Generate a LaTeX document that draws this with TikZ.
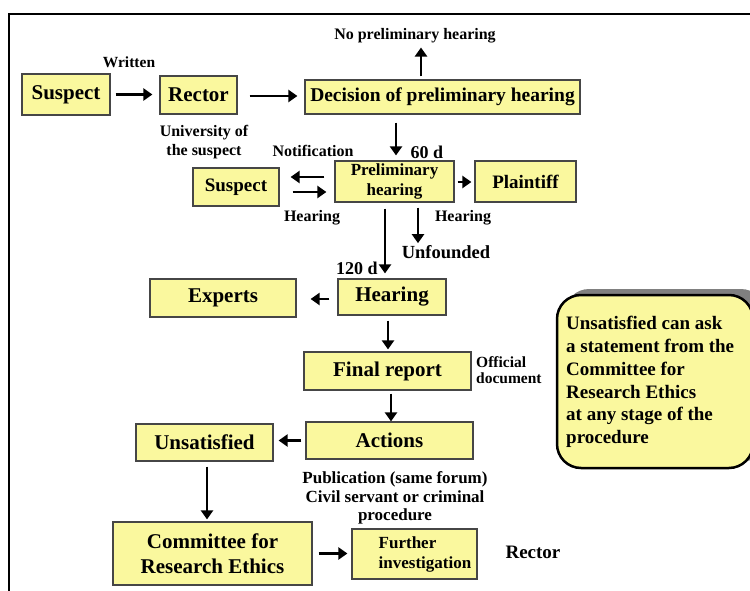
\documentclass[tikz,border=0pt]{standalone}
\usepackage{fontspec}
\setmainfont{Liberation Serif}[BoldFont={Liberation Serif Bold}]
\usetikzlibrary{arrows.meta}
\definecolor{boxfill}{RGB}{250,248,158}
\definecolor{boxline}{RGB}{70,70,70}
\definecolor{shadowgray}{RGB}{128,128,128}
\begin{document}
\begin{tikzpicture}[x=1pt,y=-1pt,
  box/.style={draw=boxline, fill=boxfill, line width=1.2pt, inner sep=0pt, align=center, font=\bfseries},
  lbl/.style={inner sep=0pt, align=center, font=\bfseries},
  arr/.style={line width=2.8pt, -{Triangle[length=9pt,width=12pt]}},
]
\useasboundingbox (0,0) rectangle (750,591);
% frame
\draw[line width=2pt] (9,591) -- (9,14) -- (750,14);

% boxes
\node[box, minimum width=88pt, minimum height=41pt, font=\bfseries\fontsize{21}{24}\selectfont] (s1) at (66,94.5) {Suspect};
\node[box, minimum width=77pt, minimum height=38pt, font=\bfseries\fontsize{21}{24}\selectfont] (r) at (198.5,95) {Rector};
\node[box, minimum width=275pt, minimum height=34pt, font=\bfseries\fontsize{19.5}{22}\selectfont] (dec) at (442.5,97) {Decision of preliminary hearing};
\node[box, minimum width=86pt, minimum height=38pt, font=\bfseries\fontsize{19}{22}\selectfont] (s2) at (236,187) {Suspect};
\node[box, minimum width=119pt, minimum height=41pt, font=\bfseries\fontsize{17}{20}\selectfont] (ph) at (394.5,181.5) {Preliminary\\hearing};
\node[box, minimum width=101pt, minimum height=41pt, font=\bfseries\fontsize{19}{22}\selectfont] (pl) at (525.5,181.5) {Plaintiff};
\node[box, minimum width=146pt, minimum height=38pt, font=\bfseries\fontsize{21}{24}\selectfont] (ex) at (223,298) {Experts};
\node[box, minimum width=108pt, minimum height=36pt, font=\bfseries\fontsize{21}{24}\selectfont] (he) at (392,297) {Hearing};
\node[box, minimum width=167pt, minimum height=38pt, font=\bfseries\fontsize{21}{24}\selectfont] (fr) at (387.5,371) {Final report};
\node[box, minimum width=167pt, minimum height=37pt, font=\bfseries\fontsize{21}{24}\selectfont] (ac) at (389.5,440.5) {Actions};
\node[box, minimum width=137pt, minimum height=37pt, font=\bfseries\fontsize{21}{24}\selectfont] (un) at (204.5,442.5) {Unsatisfied};
\node[box, minimum width=199pt, minimum height=63pt, font=\bfseries\fontsize{21}{25}\selectfont] (cre) at (212.5,553.5) {Committee for\\Research Ethics};
\node[box, minimum width=125pt, minimum height=50pt] (fi) at (414.5,554) {};
\node[lbl, align=left, font=\bfseries\fontsize{17}{20}\selectfont] (fitext) at (425,554) {Further\\investigation};

% rounded note with shadow
\fill[shadowgray, rounded corners=24pt] (565,289) rectangle (765,462);
\node[draw=black, fill=boxfill, line width=2.5pt, rounded corners=24pt, minimum width=196pt, minimum height=173pt, inner sep=0pt] (rb) at (655,381.5) {};
\node[lbl, align=left, anchor=west, font=\bfseries\fontsize{19}{22.8}\selectfont] (rbtext) at (566,382) {Unsatisfied can ask\\a statement from the\\Committee for\\Research Ethics\\at any stage of the\\procedure};

% labels
\node[lbl, font=\bfseries\fontsize{15.5}{18}\selectfont] (written) at (129,62) {Written};
\node[lbl, font=\bfseries\fontsize{16}{18}\selectfont] (nph) at (415,36) {No preliminary hearing};
\node[lbl, font=\bfseries\fontsize{16}{19}\selectfont] (univ) at (204,142.5) {University of\\the suspect};
\node[lbl, font=\bfseries\fontsize{16}{18}\selectfont] (notif) at (313,151) {Notification};
\node[lbl, font=\bfseries\fontsize{18}{20}\selectfont] (d60) at (427,152) {60 d};
\node[lbl, font=\bfseries\fontsize{16}{18}\selectfont] (hear1) at (312,218) {Hearing};
\node[lbl, font=\bfseries\fontsize{16}{18}\selectfont] (hear2) at (463,218) {Hearing};
\node[lbl, font=\bfseries\fontsize{18.5}{20}\selectfont] (unf) at (446,252) {Unfounded};
\node[lbl, font=\bfseries\fontsize{18}{20}\selectfont] (d120) at (357,268) {120 d};
\node[lbl, align=left, anchor=west, font=\bfseries\fontsize{15.5}{16.5}\selectfont] (off) at (476,370) {Official\\document};
\node[lbl, font=\bfseries\fontsize{17}{18.5}\selectfont] (pub) at (395,498) {Publication (same forum)\\Civil servant or criminal\\procedure};
\node[lbl, font=\bfseries\fontsize{19}{22}\selectfont] (rec2) at (533,552) {Rector};

% connectors
\draw[arr, shorten <=5pt, shorten >=7pt] (s1.east) -- (s1.east -| r.west);
\draw[arr, shorten <=12pt, shorten >=7pt] ([yshift=-1pt]r.east) -- ([yshift=-1pt]r.east -| dec.west);
\draw[arr, shorten <=3pt, shorten >=4pt] ([xshift=-21.5pt]dec.north) -- ([xshift=-21.5pt]dec.north |- nph.south);
\draw[arr, shorten <=8pt, shorten >=5pt] ([xshift=-46.5pt]dec.south) -- ([xshift=-46.5pt]dec.south |- ph.north);
\draw[arr, shorten <=10pt, shorten >=11pt] ([yshift=4.5pt]ph.west) -- ([yshift=4.5pt]ph.west -| s2.east);
\draw[arr, shorten <=13pt, shorten >=8pt] ([yshift=-5pt]s2.east) -- ([yshift=-5pt]s2.east -| ph.west);
\draw[arr, shorten <=3pt, shorten >=3pt] ([yshift=-0.5pt]ph.east) -- ([yshift=-0.5pt]ph.east -| pl.west);
\draw[arr, shorten <=5pt, shorten >=2pt] ([xshift=23.5pt]ph.south) -- ([xshift=23.5pt]ph.south |- unf.north);
\draw[arr, shorten <=6pt, shorten >=5pt] ([xshift=-9.5pt]ph.south) -- ([xshift=-9.5pt]ph.south |- he.north);
\draw[arr, shorten <=8pt, shorten >=14pt] ([yshift=-2pt]he.west) -- ([yshift=-2pt]he.west -| ex.east);
\draw[arr, shorten <=5pt, shorten >=2pt] ([xshift=-4pt]he.south) -- ([xshift=-4pt]he.south |- fr.north);
\draw[arr, shorten <=3pt, shorten >=0pt] ([xshift=3.5pt]fr.south) -- ([xshift=3.5pt]fr.south |- ac.north);
\draw[arr, shorten <=4pt, shorten >=5pt] (ac.west) -- (ac.west -| un.east);
\draw[arr, shorten <=5pt, shorten >=2pt] ([xshift=2.5pt]un.south) -- ([xshift=2.5pt]un.south |- cre.north);
\draw[arr, shorten <=6pt, shorten >=4pt] (cre.east) -- (cre.east -| fi.west);
\end{tikzpicture}
\end{document}
